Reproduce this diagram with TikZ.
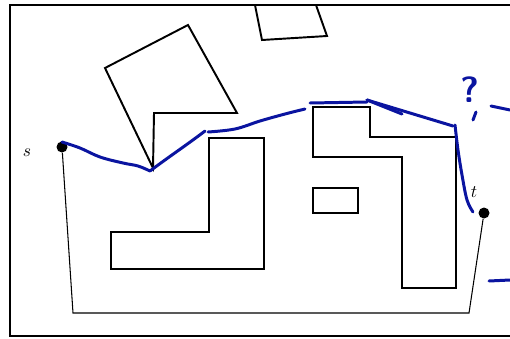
\documentclass[tikz,border=0pt]{standalone}
\usepackage{tikz}
\definecolor{inkblue}{RGB}{10,20,160}
\begin{document}
\begin{tikzpicture}[x=0.02cm,y=-0.02cm,
			wall/.style={draw, line width=1.1pt, line join=miter},
			dot/.style={circle, fill=black, inner sep=0pt, minimum size=0.22cm},
			route/.style={line width=0.6pt},
			ink/.style={draw=inkblue, line width=1.7pt, line cap=round, line join=round},
			lbl/.style={inner sep=0pt, font=\normalsize}
			]
			\useasboundingbox (0,0) rectangle (510,338);
			% frame and obstacles
			\draw[wall] (512,5) -- (10,5) -- (10,336) -- (512,336);
			\draw[wall] (255,5) -- (262,40) -- (327,36) -- (316,5);
			\draw[wall] (105,68) -- (188,25) -- (237,113) -- (154,113) -- (153,168) -- cycle;
			\draw[wall] (209,138) -- (264,138) -- (264,269) -- (111,269) -- (111,232) -- (209,232) -- cycle;
			\draw[wall] (313,107) -- (370,107) -- (370,137) -- (456,137) -- (456,288) -- (402,288) -- (402,157) -- (313,157) -- cycle;
			\draw[wall] (313,188) rectangle (358,213);
			% start and goal
			\node[dot] (s) at (62,147) {};
			\node[dot] (t) at (484,213) {};
			\node[lbl] (slbl) at (27,153) {$s$};
			\node[lbl] (tlbl) at (474,192) {$t$};
			\coordinate (r1) at (73,313);
			\coordinate (r2) at (469,313);
			\draw[route] (s) -- (r1) -- (r2) -- (t);
			% hand-drawn notes
			\draw[ink] plot[smooth, tension=0.6] coordinates {(62,142) (80,148) (100,157) (123,163) (138,166) (150,171)};
			\draw[ink] (150,171) .. controls (170,156) and (188,144) .. (205,131);
			\draw[ink] plot[smooth, tension=0.6] coordinates {(208,132) (235,129) (260,121) (285,114) (305,109)};
			\draw[ink] (310,103) -- (367,102);
			\draw[ink] (367,100) -- (402,114);
			\draw[ink] (367,100) -- (453,126);
			\draw[ink] plot[smooth, tension=0.6] coordinates {(455,125) (458,150) (462,175) (467,200) (473,212)};
			\node[text=inkblue, font=\huge\sffamily\bfseries] (qmark) at (470,90) {?};
			\draw[ink] (476,112) -- (473,120);
			\draw[ink] (491,106) -- (510,110);
			\draw[ink] (489,281) -- (510,280);
		\end{tikzpicture}
\end{document}
